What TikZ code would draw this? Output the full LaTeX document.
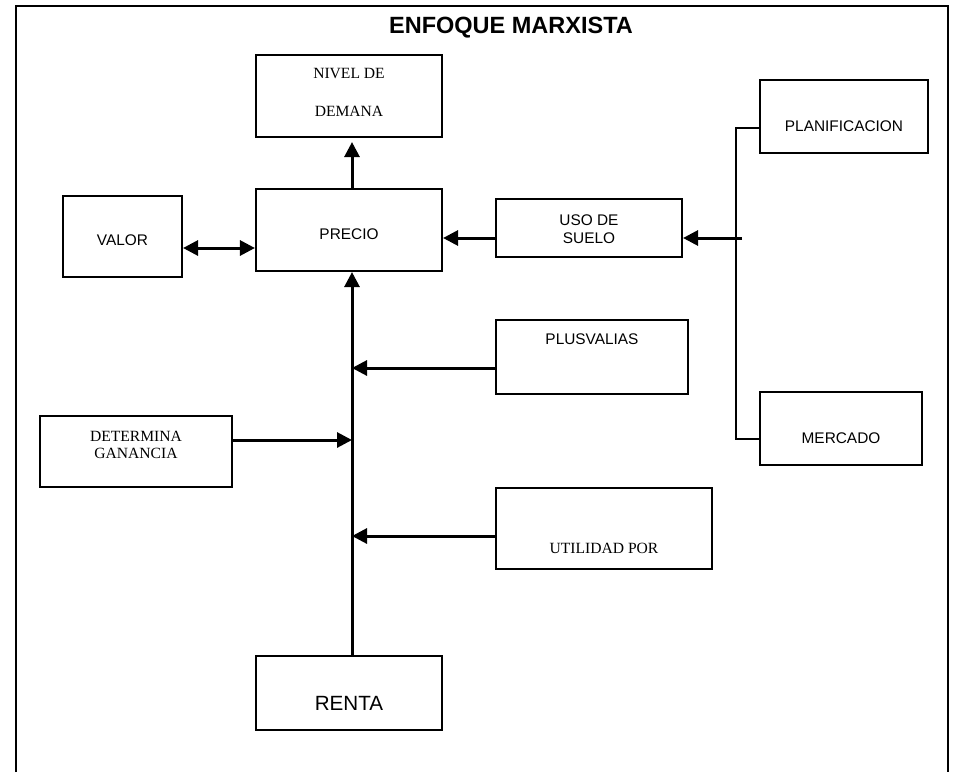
\documentclass[tikz,border=0pt]{standalone}
\usepackage{fontspec}
\setmainfont{Liberation Serif}
\setsansfont{Liberation Sans}
\usetikzlibrary{arrows.meta}

% text styles
\newcommand\sftext{\sffamily\fontsize{15.4}{17.5}\selectfont}
\newcommand\rmtext{\rmfamily\fontsize{15.6}{17.5}\selectfont}

\tikzset{
  box/.style={draw, line width=2.1pt, rectangle, inner sep=0pt},
  lbl/.style={inner sep=0pt, align=center, font=\sftext},
  rlbl/.style={inner sep=0pt, align=center, font=\rmtext},
  link/.style={line width=3pt, -{Triangle[length=15pt,width=15pt]}},
  both/.style={line width=3pt, {Triangle[length=15pt,width=15pt]}-{Triangle[length=15pt,width=15pt]}},
  bar/.style={line width=2.1pt},
}

\begin{document}
\begin{tikzpicture}[x=1pt,y=-1pt]
\useasboundingbox (0,0) rectangle (961,772);

% open frame round the chart
\draw[line width=2.1pt] (16,772) -- (16,6) -- (948,6) -- (948,772);

\node[font=\sffamily\bfseries\fontsize{23.5}{25}\selectfont, inner sep=0pt] (title) at (511,28) {ENFOQUE MARXISTA};

% boxes
\node[box, minimum width=186pt, minimum height=82pt] (nivel) at (349,96) {};
\node[rlbl, font=\rmfamily\fontsize{15.6}{38}\selectfont] (nivel-t) at (349,92) {NIVEL DE\\DEMANA};

\node[box, minimum width=186pt, minimum height=82pt] (precio) at (349,230) {};
\node[lbl] (precio-t) at (349,234) {PRECIO};

\node[box, minimum width=119pt, minimum height=81pt] (valor) at (122.5,236.5) {};
\node[lbl] (valor-t) at (122.5,240) {VALOR};

\node[box, minimum width=186pt, minimum height=58pt] (uso) at (589,228) {};
\node[lbl] (uso-t) at (589,229) {USO DE\\SUELO};

\node[box, minimum width=168pt, minimum height=73pt] (plan) at (844,116.5) {};
\node[lbl] (plan-t) at (844,126) {PLANIFICACION};

\node[box, minimum width=162pt, minimum height=73pt] (merc) at (841,428.5) {};
\node[lbl] (merc-t) at (841,438) {MERCADO};

\node[box, minimum width=192pt, minimum height=74pt] (plus) at (592,357) {};
\node[lbl] (plus-t) at (592,339) {PLUSVALIAS};

\node[box, minimum width=192pt, minimum height=71pt] (det) at (136,451.5) {};
\node[rlbl] (det-t) at (136,445) {DETERMINA\\GANANCIA};

\node[box, minimum width=216pt, minimum height=81pt] (util) at (604,528.5) {};
\node[rlbl] (util-t) at (604,548) {UTILIDAD POR};

\node[box, minimum width=186pt, minimum height=74pt] (renta) at (349,693) {};
\node[lbl, font=\sffamily\fontsize{20.6}{22}\selectfont] (renta-t) at (349,703) {RENTA};

% reference lines for the connectors
\coordinate (spine) at (352,400);
\coordinate (yv) at (0,248);
\coordinate (yu) at (0,238);
\coordinate (yp) at (0,368);
\coordinate (yd) at (0,440);
\coordinate (yt) at (0,536);
\coordinate (ypl) at (0,128);
\coordinate (ymc) at (0,439);
\coordinate (bk) at (736,238);
\coordinate (bkend) at (742,238);

% connectors
\draw[link, shorten >=4pt] (spine |- precio.north) -- (spine |- nivel.south);
\draw[link] (spine |- renta.north) -- (spine |- precio.south);
\draw[both] (valor.east |- yv) -- (precio.west |- yv);
\draw[link] (uso.west |- yu) -- (precio.east |- yu);
\draw[link] (bkend) -- (uso.east |- yu);
\draw[bar] (plan.west |- ypl) -| (bk) |- (merc.west |- ymc);
\draw[link] (plus.west |- yp) -- (spine |- yp);
\draw[link] (det.east |- yd) -- (spine |- yd);
\draw[link] (util.west |- yt) -- (spine |- yt);
\end{tikzpicture}
\end{document}
